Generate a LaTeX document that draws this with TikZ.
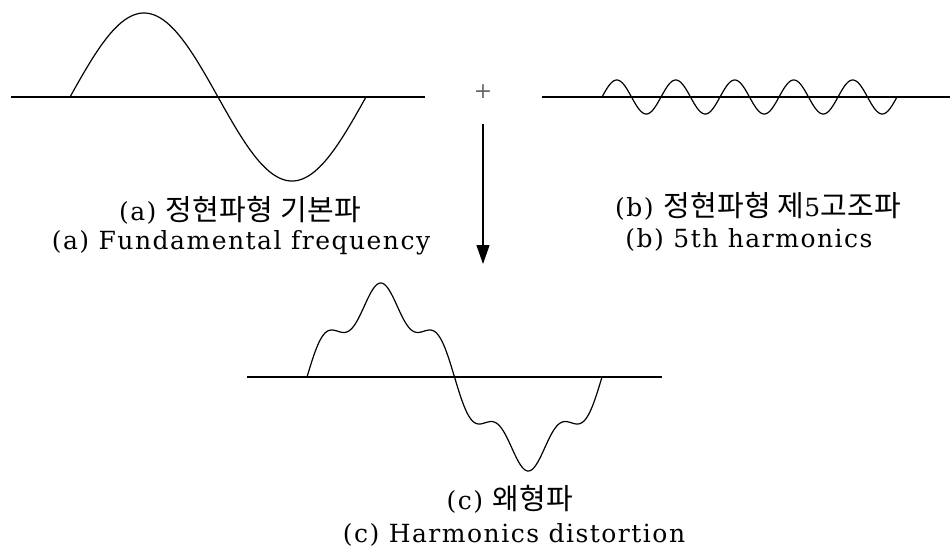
\documentclass[tikz,border=0pt]{standalone}
\usepackage{fontspec}
\setmainfont{DejaVu Serif}[LetterSpace=6]
\newfontfamily\krfont{Noto Sans CJK KR}[LetterSpace=1]
\usetikzlibrary{arrows.meta}
\tikzset{
  wave/.style={line width=1.2pt, black, line join=round},
  axisline/.style={line width=1.2pt, black},
  captext/.style={font=\fontsize{25}{28}\selectfont, inner sep=0pt, anchor=center},
  plussign/.style={font=\fontsize{22}{22}\selectfont, text=black!60, inner sep=0pt},
  flowarrow/.style={line width=1.2pt, -{Triangle[width=13pt,length=19pt]}}
}
\newcommand\kr[1]{{\krfont\fontsize{29}{32}\selectfont #1}}
\begin{document}
\begin{tikzpicture}[x=1pt,y=-1pt]
\useasboundingbox (0,0) rectangle (950,547);
% panel (a)
\draw[axisline] (11,97) -- (425,97);
\draw[wave] plot[domain=0:360, samples=200, variable=\t] ({70+\t/360*296},{97-84*sin(\t)});
% plus
\node[plussign] (plus) at (483,92) {+};
% panel (b)
\draw[axisline] (542,97) -- (950,97);
\draw[wave] plot[domain=0:1800, samples=400, variable=\t] ({602+\t/1800*295},{97-17*sin(\t)});
% arrow
\coordinate (arrtop) at (483,124);
\coordinate (arrbot) at (483,264);
\draw[flowarrow] (arrtop) -- (arrbot);
% panel (c)
\draw[axisline] (247,377) -- (662,377);
\draw[wave] plot[domain=0:360, samples=400, variable=\t] ({307+\t/360*295},{377-78.5*sin(\t)-15.5*sin(5*\t)});
% captions
\node[captext] (akr) at (240,210) {(a) \kr{정현파형 기본파}};
\node[captext] (aen) at (241,243) {(a) Fundamental frequency};
\node[captext] (bkr) at (758,206) {(b) \kr{정현파형 제}5\kr{고조파}};
\node[captext] (ben) at (749,240) {(b) 5th harmonics};
\node[captext] (ckr) at (510,499) {(c) \kr{왜형파}};
\node[captext] (cen) at (514,535) {(c) Harmonics distortion};
\end{tikzpicture}
\end{document}
